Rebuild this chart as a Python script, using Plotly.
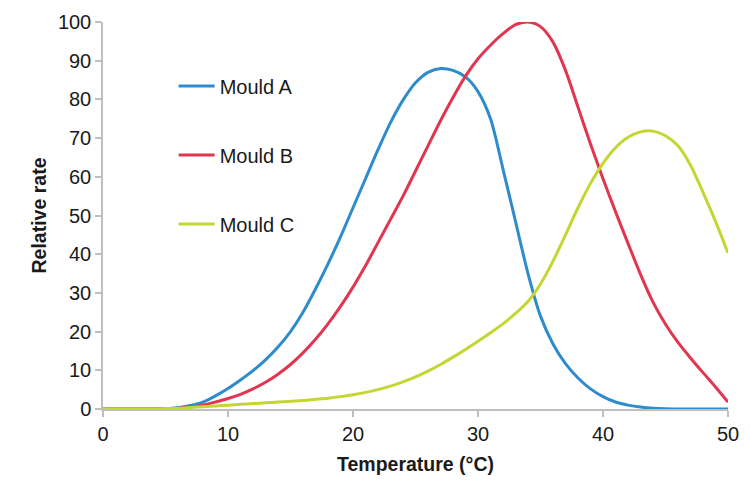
import plotly.graph_objects as go

temperature = list(range(0, 51))

mould_a = [0, 0, 0, 0, 0, 0.05, 0.3, 0.9, 1.8, 3.4, 5.3, 7.5, 9.9, 12.7, 16, 20, 25, 31, 37.5, 44.5, 52, 59.5, 67, 74,
           79.8, 84.3, 87, 88, 87.5, 85.8, 82, 75, 62, 48.5, 35, 24, 16.8, 11.7, 8, 5.2, 3.2, 1.8, 1, 0.5, 0.2, 0.05, 0, 0, 0, 0, 0]

mould_b = [0, 0, 0, 0, 0, 0.05, 0.2, 0.5, 1, 1.8, 2.7, 3.8, 5.2, 6.9, 9, 11.5, 14.5, 18, 22, 26.5, 31.5, 37, 43, 49,
           55, 61.5, 68, 74.5, 80.5, 86, 90.5, 94, 97, 99.3, 100, 98.8, 94.8, 87.5, 78, 68.5, 59.5, 51, 42.8, 34.8, 27.6, 21.9, 17.2, 13.2, 9.4, 5.7, 1.8]

mould_c = [0, 0, 0, 0, 0, 0.1, 0.2, 0.4, 0.6, 0.8, 1, 1.2, 1.4, 1.6, 1.8, 2, 2.2, 2.5, 2.8, 3.2, 3.7, 4.3, 5, 5.9,
           7, 8.3, 9.8, 11.5, 13.4, 15.4, 17.5, 19.7, 22, 24.7, 27.8, 32.3, 38.2, 45, 52, 58.3, 63.5, 67.5, 70.2, 71.6, 71.8, 70.6, 68, 63, 56, 48.5, 40.3]

series = [
    ("Mould A", mould_a, "#2E8BCC"),
    ("Mould B", mould_b, "#E0364F"),
    ("Mould C", mould_c, "#C3D631"),
]

x_ticks = [0, 10, 20, 30, 40, 50]
y_ticks = [0, 10, 20, 30, 40, 50, 60, 70, 80, 90, 100]

fig = go.Figure()
for name, ys, color in series:
    fig.add_trace(go.Scatter(
        x=temperature, y=ys, name=name, mode="lines", legendgroup=name,
        line=dict(color=color, width=3, shape="spline", smoothing=0.8),
    ))

font_family = "Liberation Sans, Arial, sans-serif"
fig.update_layout(
    width=750, height=480,
    margin=dict(l=103, r=22, t=22, b=71),
    paper_bgcolor="white", plot_bgcolor="white",
    font=dict(family=font_family, size=20, color="#1a1a1a"),
    showlegend=True,
    legend=dict(
        x=0.113, y=0.885, xanchor="left", yanchor="top",
        bgcolor="rgba(0,0,0,0)", traceorder="grouped", tracegroupgap=40,
        itemwidth=36,
        font=dict(size=20, color="#1a1a1a"),
    ),
    xaxis=dict(
        range=[0, 50], tickvals=x_ticks, showgrid=False, zeroline=False,
        showline=True, linecolor="#bfbfbf", linewidth=1.5, automargin=False,
        ticks="outside", ticklen=6, tickcolor="#bfbfbf", tickwidth=1.5,
        tickfont=dict(size=20),
        title=dict(text="<b>Temperature (°C)</b>", font=dict(size=19.5), standoff=14),
    ),
    yaxis=dict(
        range=[0, 100], tickvals=y_ticks, showgrid=False, zeroline=False,
        showline=True, linecolor="#bfbfbf", linewidth=1.5, automargin=False,
        ticks="outside", ticklen=6, tickcolor="#bfbfbf", tickwidth=1.5,
        tickfont=dict(size=20),
        title=dict(text="<b>Relative rate</b>", font=dict(size=19.5), standoff=6),
    ),
)

fig.write_html("out.html", config={"displayModeBar": False},
               post_script="document.body.style.margin='0';")
